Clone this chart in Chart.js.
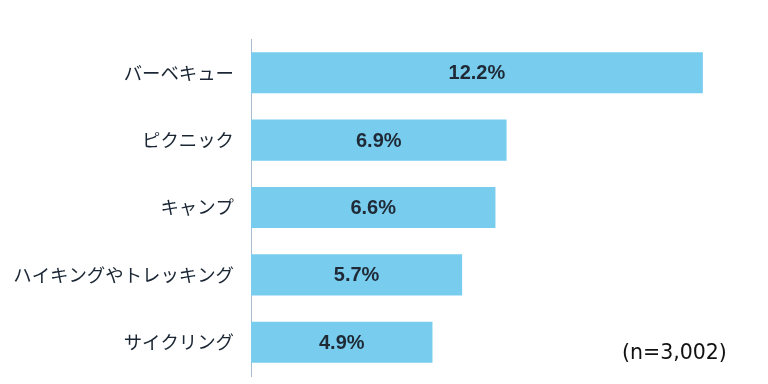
<!DOCTYPE html>
<html>
<head>
<meta charset="utf-8">
<script src="https://cdn.jsdelivr.net/npm/chart.js@4/dist/chart.umd.min.js"></script>
<style>
  html, body { margin: 0; padding: 0; background: #fff; }
  #wrap { position: relative; width: 768px; height: 384px; overflow: hidden; }
  #note { position: absolute; left: 622px; top: 340px; font: 20.5px "DejaVu Sans", sans-serif; color: #111; }
</style>
</head>
<body>
<div id="wrap">
  <canvas id="chart" width="768" height="384"></canvas>
  <div id="note">(n=3,002)</div>
</div>
<script>
// activities and share of respondents (%)
const categories = ['バーベキュー', 'ピクニック', 'キャンプ', 'ハイキングやトレッキング', 'サイクリング'];
const values = [12.2, 6.9, 6.6, 5.7, 4.9];

// draws the value in the middle of each bar
const barLabels = {
    id: 'barLabels',
    afterDatasetsDraw(chart) {
        const ctx = chart.ctx;
        const meta = chart.getDatasetMeta(0);
        ctx.save();
        ctx.font = 'bold 20px "Liberation Sans", Arial, sans-serif';
        ctx.fillStyle = '#1f2a36';
        ctx.textAlign = 'center';
        ctx.textBaseline = 'middle';
        meta.data.forEach((bar, i) => {
            const mid = (bar.x + bar.base) / 2;
            ctx.fillText(values[i].toFixed(1) + '%', mid, bar.y + 1);
        });
        ctx.restore();
    }
};

const ctx = document.getElementById('chart').getContext('2d');
new Chart(ctx, {
    type: 'bar',
    data: {
        labels: categories,
        datasets: [{
            data: values,
            backgroundColor: '#78cdef',
            barPercentage: 0.61,
            categoryPercentage: 1.0
        }]
    },
    options: {
        indexAxis: 'y',
        responsive: false,
        animation: false,
        layout: { padding: { left: 0, right: 17, top: 39, bottom: 8 } },
        plugins: { legend: { display: false }, tooltip: { enabled: false } },
        scales: {
            x: { display: false, min: 0, max: 13.5 },
            y: {
                grid: { display: true, drawOnChartArea: false, drawTicks: false },
                border: { display: true, color: '#a9bccf', width: 1 },
                ticks: {
                    padding: 17,
                    color: '#1a2633',
                    font: { family: '"Noto Sans CJK JP", sans-serif', size: 18.4 }
                },
                afterFit(scale) {
                    scale.width = 251;
                    scale.paddingTop = 0;
                    scale.paddingBottom = 0;
                }
            }
        }
    },
    plugins: [barLabels]
});
</script>
</body>
</html>
